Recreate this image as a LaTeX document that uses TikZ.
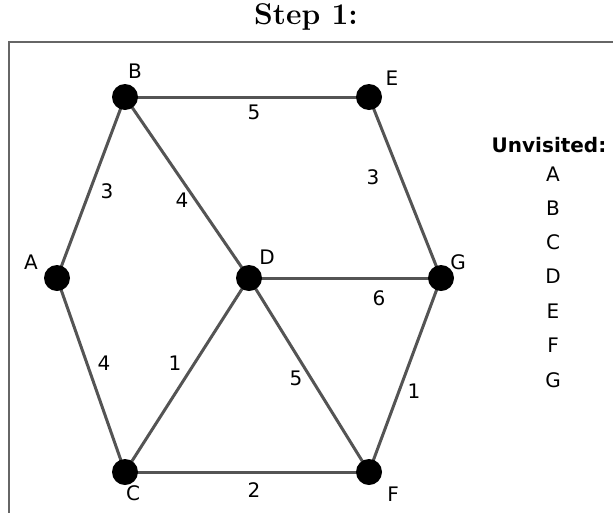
\documentclass[tikz,border=0pt]{standalone}
\usepackage{fontspec}
\newfontfamily\labfont{DejaVu Sans}
\usetikzlibrary{calc,backgrounds}
\tikzset{
  vtx/.style={circle, fill=black, inner sep=0pt, minimum size=26pt},
  edge/.style={draw=black!67, line width=3pt},
  vlab/.style={font=\labfont\fontsize{20}{20}\selectfont, inner sep=0pt},
  elab/.style={font=\labfont\fontsize{20}{20}\selectfont, inner sep=0pt, midway},
  frame/.style={draw=black!60, line width=2pt}
}
\begin{document}
\begin{tikzpicture}[x=1pt,y=-1pt]
\useasboundingbox (0,0) rectangle (613,512);
\begin{scope}
\clip (0,0) rectangle (613,512);
\draw[frame] (9,42) rectangle (640,540);
\end{scope}
\node[font=\bfseries\fontsize{30}{30}\selectfont, inner sep=0pt] (title) at (306,17) {Step 1:};
% vertices
\node[vtx] (A) at (57,278) {};
\node[vtx] (B) at (125,97) {};
\node[vtx] (C) at (125,472) {};
\node[vtx] (D) at (249,278) {};
\node[vtx] (E) at (369,97) {};
\node[vtx] (F) at (369,472) {};
\node[vtx] (G) at (441,278) {};
% edges
\begin{pgfonlayer}{background}
\path[edge] (A.center) -- node[elab, xshift=16pt, yshift=-3.5pt] {3} (B.center);
\path[edge] (B.center) -- node[elab, xshift=7pt, yshift=-15pt] {5} (E.center);
\path[edge] (B.center) -- node[elab, xshift=-5pt, yshift=-12.5pt] {4} (D.center);
\path[edge] (E.center) -- node[elab, xshift=-32pt, yshift=10.5pt] {3} (G.center);
\path[edge] (A.center) -- node[elab, xshift=13pt, yshift=12pt] {4} (C.center);
\path[edge] (C.center) -- node[elab, xshift=-12pt, yshift=12pt] {1} (D.center);
\path[edge] (D.center) -- node[elab, xshift=34pt, yshift=-20pt] {6} (G.center);
\path[edge] (D.center) -- node[elab, xshift=-13pt, yshift=-3pt] {5} (F.center);
\path[edge] (G.center) -- node[elab, xshift=9pt, yshift=-16pt] {1} (F.center);
\path[edge] (C.center) -- node[elab, xshift=7pt, yshift=-18pt] {2} (F.center);
\end{pgfonlayer}
% vertex labels
\node[vlab] (lA) at ($(A)+(-26,-16)$) {A};
\node[vlab] (lB) at ($(B)+(10,-26)$) {B};
\node[vlab] (lC) at ($(C)+(8,21)$) {C};
\node[vlab] (lD) at ($(D)+(18,-21)$) {D};
\node[vlab] (lE) at ($(E)+(23,-19)$) {E};
\node[vlab] (lF) at ($(F)+(24,22)$) {F};
\node[vlab] (lG) at ($(G)+(17,-16)$) {G};
% unvisited list
\node[font=\labfont\bfseries\fontsize{20}{20}\selectfont, inner sep=0pt] (uv) at (549,145) {Unvisited:};
\node[vlab] (u1) at (553,174) {A};
\node[vlab] (u2) at (553,208) {B};
\node[vlab] (u3) at (553,242) {C};
\node[vlab] (u4) at (553,276) {D};
\node[vlab] (u5) at (553,311) {E};
\node[vlab] (u6) at (553,345) {F};
\node[vlab] (u7) at (553,380) {G};
\end{tikzpicture}
\end{document}
